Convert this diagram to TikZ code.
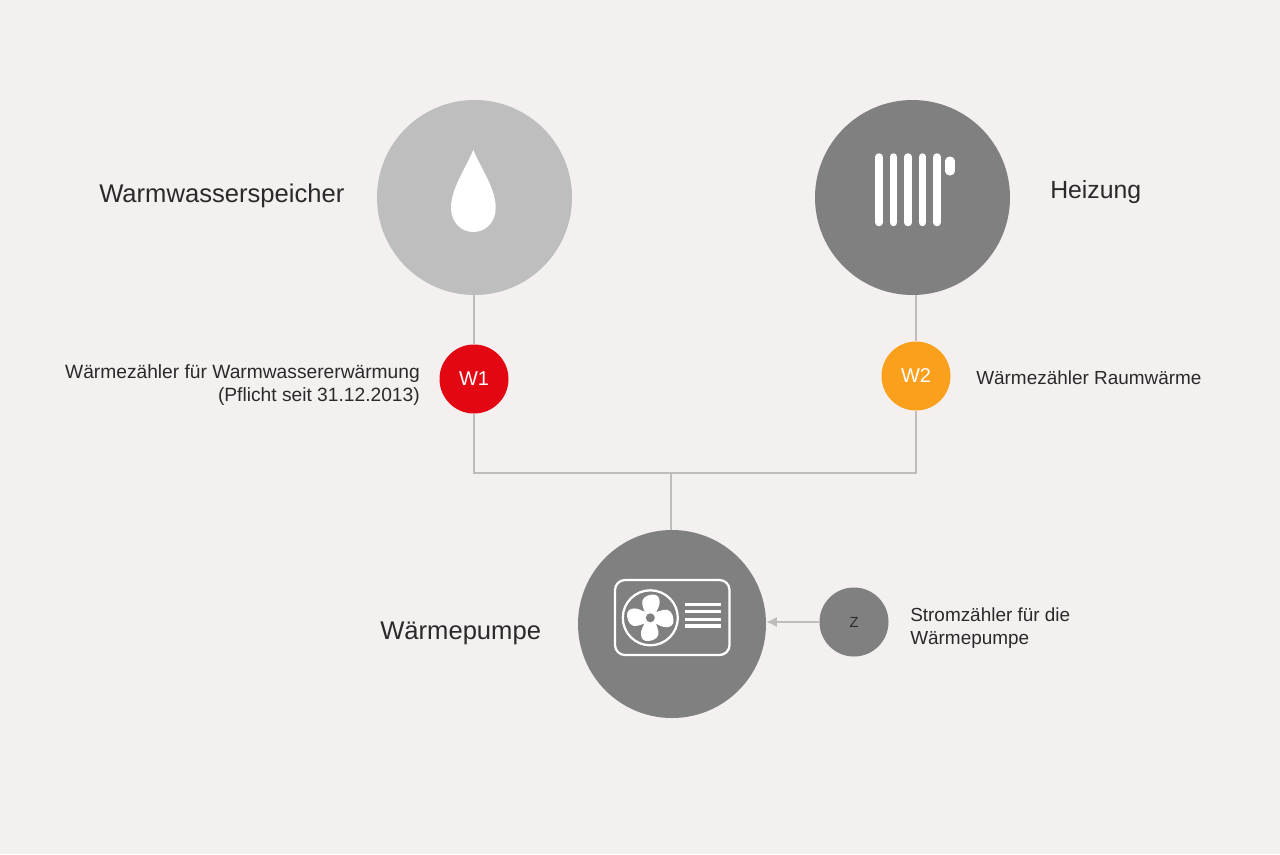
\documentclass[tikz,border=0pt]{standalone}
\usepackage{fontspec}
\usetikzlibrary{arrows.meta}
\setmainfont{Liberation Sans}
\definecolor{bgcolor}{HTML}{F3F0EF}
\definecolor{lightdisk}{HTML}{BEBEBE}
\definecolor{darkdisk}{HTML}{808080}
\definecolor{pipecolor}{HTML}{BFBCBB}
\definecolor{meterred}{HTML}{E30613}
\definecolor{meterorange}{HTML}{FBA01C}
\definecolor{textcolor}{HTML}{2A2A2A}
\tikzset{
  disk/.style = {circle, inner sep = 0pt, minimum size = 195*0.75pt},
  meter/.style = {circle, inner sep = 0pt, minimum size = 69*0.75pt, text = white, font = \fontsize{15}{15}\selectfont},
  pipe/.style = {draw = pipecolor, line width = 1.8pt},
  biglabel/.style = {inner sep = 0pt, text = textcolor, font = \fontsize{19.2}{23}\selectfont},
  smalllabel/.style = {inner sep = 0pt, text = textcolor, font = \fontsize{14.2}{17.2}\selectfont},
  iconline/.style = {draw = white, line width = 1.7pt, line cap = round}
}
\begin{document}
\begin{tikzpicture}[x = 0.75pt, y = -0.75pt]
\useasboundingbox (0,0) rectangle (1280,854);
\fill [bgcolor] (0,0) rectangle (1280,854);
\node [disk, fill = lightdisk] (speicher) at (474.5,197.5) {};
\node [disk, fill = darkdisk] (heizung) at (912.5,197.5) {};
\node [disk, fill = darkdisk, minimum size = 188*0.75pt] (pumpe) at (672,624) {};
\node [meter, fill = meterred] (w1) at (474,379) {W1};
\node [meter, fill = meterorange] (w2) at (916,376) {W2};
\node [meter, fill = darkdisk, text = textcolor, font = \fontsize{11}{11}\selectfont] (z) at (854,622) {Z};
\coordinate (junction) at (671,473);
\node [biglabel, anchor = west] (speicherlabel) at (99,196) {Warmwasserspeicher};
\node [biglabel, anchor = west, font = \fontsize{18.6}{23}\selectfont] (heizunglabel) at (1050,192) {Heizung};
\node [biglabel, anchor = west] (pumpelabel) at (380,633) {Wärmepumpe};
\node [smalllabel, anchor = east, align = right, font = \fontsize{14.4}{17.2}\selectfont] (w1label) at (420,385) {Wärmezähler für Warmwassererwärmung\\(Pflicht seit 31.12.2013)};
\node [smalllabel, anchor = west] (w2label) at (976,377.5) {Wärmezähler Raumwärme};
\node [smalllabel, anchor = west, align = left] (zlabel) at (910,628) {Stromzähler für die\\Wärmepumpe};
% pipes
\draw [pipe] (speicher.south -| w1) -- (w1);
\draw [pipe] (heizung.south -| w2) -- (w2);
\draw [pipe] (w1) |- (junction) -| (w2);
\draw [pipe] (junction) -- (junction |- pumpe.north);
\draw [pipe, -{Latex[length = 8pt, width = 8pt]}] (z) -- (z -| pumpe.east);
% drop
\fill [white] (473.3,150) .. controls (466,168) and (451,188) .. (451,208) .. controls (451,222) and (461,232) .. (473.3,232) .. controls (486,232) and (495.7,222) .. (495.7,208) .. controls (495.7,188) and (480.6,168) .. (473.3,150);
% radiator
\foreach \n in {0,...,4} \draw [iconline, line width = 5.6pt] (879+14.5*\n,157) -- (879+14.5*\n,222.5);
\draw [iconline, line width = 6.8pt] (950,161) -- (950,171);
% fan unit
\draw [iconline, rounded corners = 7.5pt] (615,580) rectangle (729.5,655);
\coordinate (fan) at (650.3,617.8);
\draw [iconline] (fan) circle (27.5);
\fill [white] (fan) circle (8);
\foreach \n in {0,90,180,270} \fill [white, shift = {(fan)}, rotate = \n] (-4,0) .. controls (-5,-6) and (-9,-12) .. (-8,-17) .. controls (-7,-22) and (1,-24) .. (5,-23) .. controls (9,-22) and (10,-17) .. (9,-13) .. controls (8,-9) and (5,-5) .. (4,0) -- cycle;
\fill [darkdisk] (fan) circle (4.5);
\foreach \y in {604.3,611.7,619.3,626} \draw [iconline, line cap = butt, line width = 2.5pt] (685,\y) -- (720.5,\y);
\end{tikzpicture}
\end{document}
